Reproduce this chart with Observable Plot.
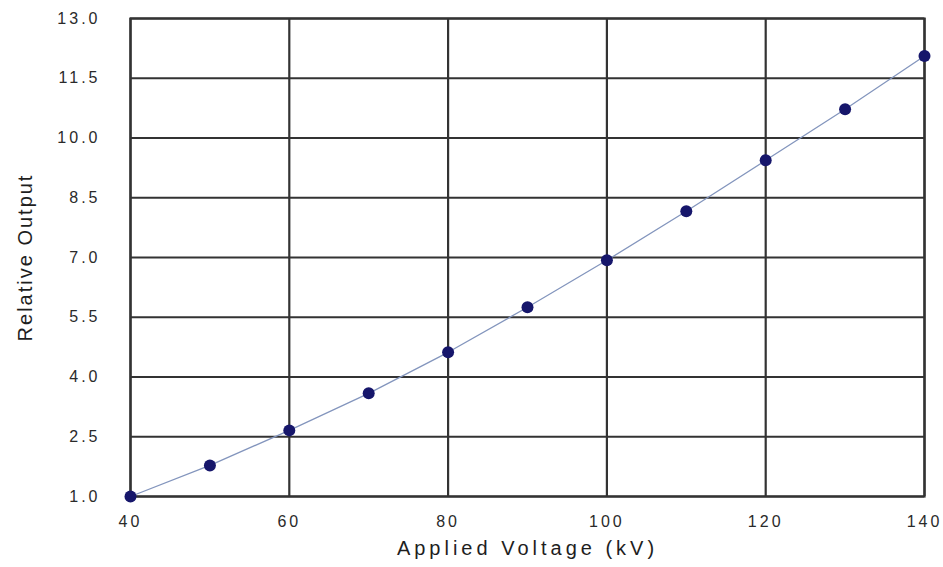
<!DOCTYPE html>
<html>
<head>
<meta charset="utf-8">
<script src="https://cdn.jsdelivr.net/npm/d3@7"></script>
<script src="https://cdn.jsdelivr.net/npm/@observablehq/plot@0.6"></script>
<style>
  html, body { margin: 0; padding: 0; background: #fff; }
  #chart svg text { letter-spacing: 3px; }
</style>
</head>
<body>
<div id="chart"></div>
<script>
const voltage = [40, 50, 60, 70, 80, 90, 100, 110, 120, 130, 140];
const output  = [1.0, 1.78, 2.66, 3.59, 4.62, 5.75, 6.93, 8.16, 9.44, 10.72, 12.06];
const xTicks = [40, 60, 80, 100, 120, 140];
const yTicks = [1.0, 2.5, 4.0, 5.5, 7.0, 8.5, 10.0, 11.5, 13.0];
const xTitle = "Applied Voltage (kV)";
const yTitle = "Relative Output";

const data = voltage.map((v, i) => ({v, o: output[i]}));
const grid = "#333333";

const chart = Plot.plot({
  width: 943,
  height: 567,
  marginLeft: 130,
  marginRight: 19,
  marginTop: 18,
  marginBottom: 71,
  style: {fontFamily: "Arial, 'Liberation Sans', sans-serif", fontSize: "16px", color: "#2a2a2a", background: "#fff"},
  x: {domain: [40, 140], ticks: xTicks, tickFormat: d3.format("d"), tickSize: 0, tickPadding: 19, label: null},
  y: {domain: [1, 13], ticks: yTicks, tickFormat: d3.format(".1f"), tickSize: 0, tickPadding: 30, label: null},
  marks: [
    Plot.ruleX(xTicks, {stroke: grid, strokeWidth: 2.2}),
    Plot.ruleY(yTicks, {stroke: grid, strokeWidth: 2.2}),
    Plot.frame({stroke: grid, strokeWidth: 2.2}),
    Plot.line(data, {x: "v", y: "o", stroke: "#8395bd", strokeWidth: 1.3}),
    Plot.dot(data, {x: "v", y: "o", r: 6, fill: "#16166b", stroke: "none"}),
    Plot.text([xTitle], {frameAnchor: "bottom", textAnchor: "middle", dy: 58, fontSize: 20, fill: "#1e1e1e", className: "xtitle"}),
    Plot.text([yTitle], {frameAnchor: "left", textAnchor: "middle", dx: -105, rotate: -90, fontSize: 20, fill: "#1e1e1e", className: "ytitle"})
  ]
});
document.getElementById("chart").appendChild(chart);
d3.select(chart).selectAll(".xtitle text").style("letter-spacing", "4px");
d3.select(chart).selectAll(".ytitle text").style("letter-spacing", "2px");
</script>
</body>
</html>
